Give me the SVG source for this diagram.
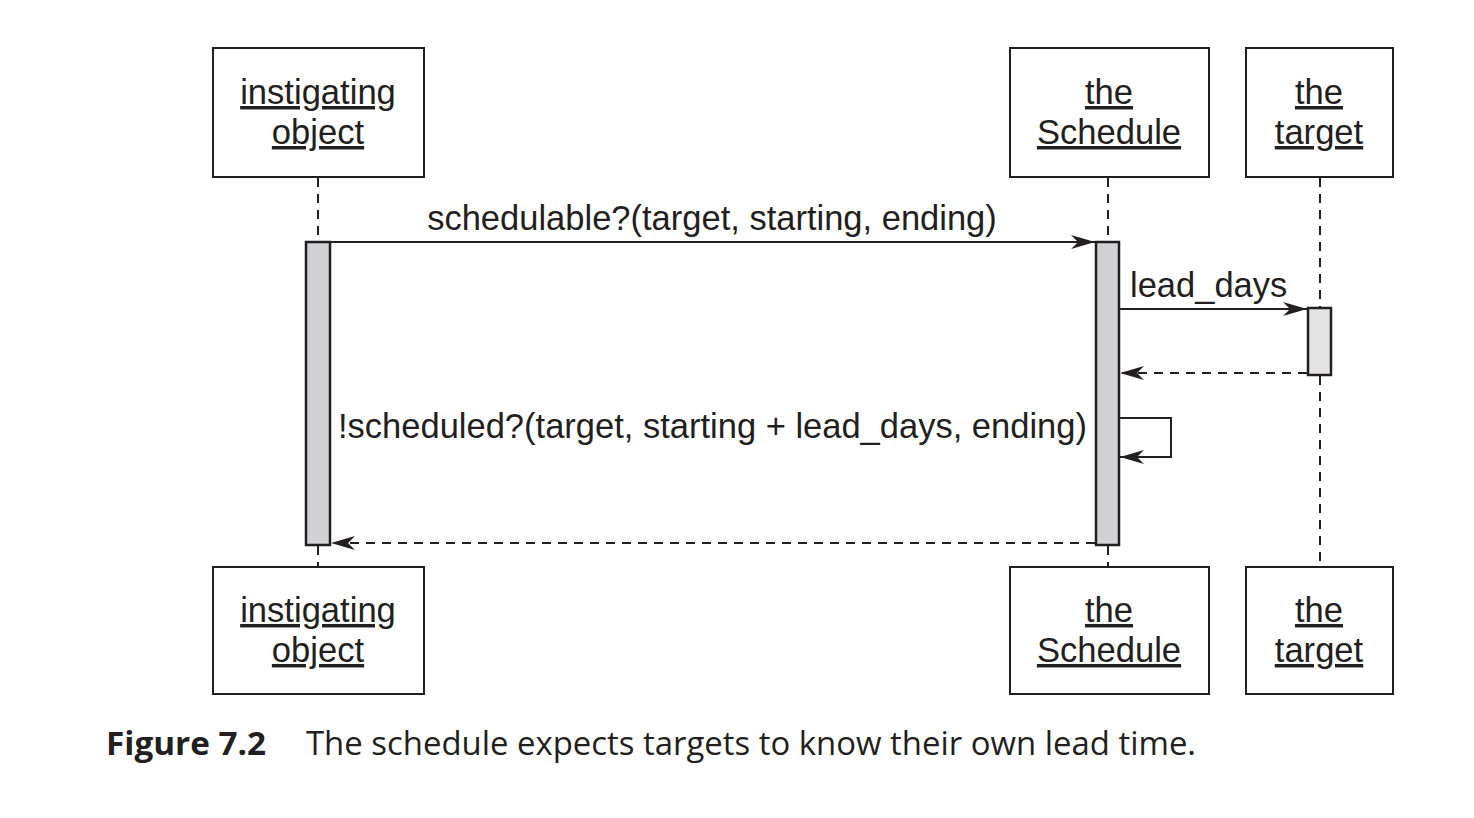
<svg xmlns="http://www.w3.org/2000/svg" width="1474" height="818" viewBox="0 0 1474 818">
<style>
.box{fill:#fff;stroke:#231f20;stroke-width:2}
.lbl{font-family:"Liberation Sans",Arial,sans-serif;font-size:34.6px;fill:#231f20;text-anchor:middle;text-decoration:underline}
.msg{font-family:"Liberation Sans",Arial,sans-serif;font-size:34.5px;fill:#231f20}
.life{stroke:#231f20;stroke-width:2;stroke-dasharray:9 7;fill:none}
.act{fill:#d1d2d4;stroke:#231f20;stroke-width:2.5}
.act2{fill:#e3e3e3;stroke:#231f20;stroke-width:2.5}
.call{stroke:#231f20;stroke-width:2;fill:none}
.ret{stroke:#231f20;stroke-width:2;fill:none;stroke-dasharray:9 7}
.cap{font-family:"Open Sans","Liberation Sans",sans-serif;font-size:32px;fill:#231f20}
</style>
<defs>
<marker id="ah" markerUnits="userSpaceOnUse" markerWidth="26" markerHeight="14" refX="24" refY="7" orient="auto">
<path d="M0,0 L24,7 L0,14 L7,7 z" fill="#231f20"/>
</marker>
</defs>
<rect width="1474" height="818" fill="#fff"/>
<g id="lifelines">
<line class="life" x1="318" y1="178" x2="318" y2="242"/>
<line class="life" x1="318" y1="546" x2="318" y2="567"/>
<line class="life" x1="1108" y1="178" x2="1108" y2="242"/>
<line class="life" x1="1108" y1="546" x2="1108" y2="567"/>
<line class="life" x1="1320" y1="178" x2="1320" y2="308"/>
<line class="life" x1="1320" y1="376" x2="1320" y2="567"/>
</g>
<g id="top-instigating"><rect class="box" x="213" y="48" width="211" height="129"/><text class="lbl" x="318" y="104">instigating</text><text class="lbl" x="318" y="144">object</text></g>
<g id="top-schedule"><rect class="box" x="1010" y="48" width="199" height="129"/><text class="lbl" x="1109" y="104">the</text><text class="lbl" x="1109" y="144">Schedule</text></g>
<g id="top-target"><rect class="box" x="1246" y="48" width="147" height="129"/><text class="lbl" x="1319" y="104">the</text><text class="lbl" x="1319" y="144">target</text></g>
<g id="bot-instigating"><rect class="box" x="213" y="567" width="211" height="127"/><text class="lbl" x="318" y="622">instigating</text><text class="lbl" x="318" y="662">object</text></g>
<g id="bot-schedule"><rect class="box" x="1010" y="567" width="199" height="127"/><text class="lbl" x="1109" y="622">the</text><text class="lbl" x="1109" y="662">Schedule</text></g>
<g id="bot-target"><rect class="box" x="1246" y="567" width="147" height="127"/><text class="lbl" x="1319" y="622">the</text><text class="lbl" x="1319" y="662">target</text></g>
<g id="act-instigating"><rect class="act" x="306" y="242" width="24" height="303"/></g>
<g id="act-schedule"><rect class="act" x="1096" y="242" width="23" height="303"/></g>
<g id="act-target"><rect class="act2" x="1308" y="308" width="23" height="67"/></g>
<g id="connectors">
<line class="call" x1="331" y1="242" x2="1095" y2="242" marker-end="url(#ah)"/>
<line class="call" x1="1120" y1="309" x2="1307" y2="309" marker-end="url(#ah)"/>
<line class="ret" x1="1307" y1="373" x2="1120" y2="373" marker-end="url(#ah)"/>
<polyline class="call" points="1120,418 1171,418 1171,457 1120,457" marker-end="url(#ah)"/>
<line class="ret" x1="1095" y1="543" x2="331" y2="543" marker-end="url(#ah)"/>
</g>
<g id="labels">
<text class="msg" x="712" y="230" text-anchor="middle">schedulable?(target, starting, ending)</text>
<text class="msg" x="1130" y="297">lead_days</text>
<text class="msg" x="338" y="438">!scheduled?(target, starting + lead_days, ending)</text>
</g>
<g id="caption">
<text class="cap" x="106" y="755" font-weight="bold" textLength="160" lengthAdjust="spacingAndGlyphs">Figure 7.2</text>
<text class="cap" x="306" y="755" textLength="890" lengthAdjust="spacingAndGlyphs">The schedule expects targets to know their own lead time.</text>
</g>
</svg>
